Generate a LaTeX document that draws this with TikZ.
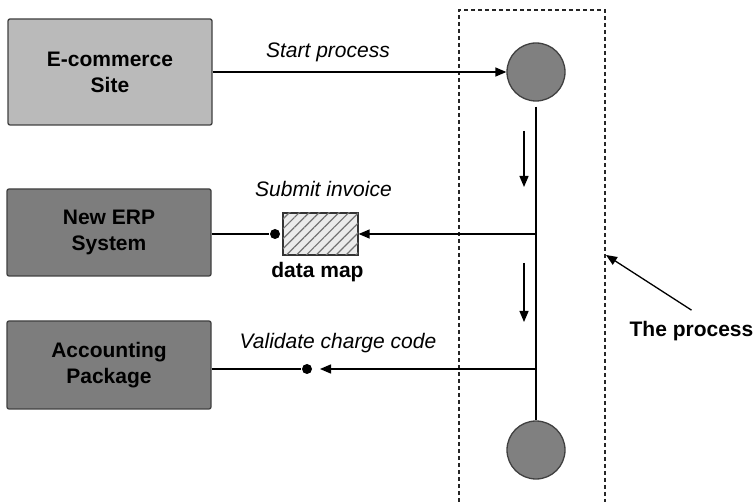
\documentclass[tikz,border=0pt]{standalone}
\usepackage{fontspec}
\setmainfont{Liberation Sans}
\usetikzlibrary{arrows.meta,patterns.meta}
\begin{document}
\begin{tikzpicture}[x=1pt,y=-1pt,line width=1.3pt,>={Triangle[length=11pt,width=9pt]},
		sysbox/.style={draw=black!75,rounded corners=2pt,minimum width=204pt,inner sep=0pt,align=center,font=\fontsize{21}{26}\selectfont\bfseries},
		state/.style={circle,draw=black!75,fill=black!50,minimum size=58pt,inner sep=0pt},
		dot/.style={circle,fill=black,inner sep=0pt,minimum size=10pt},
		lbl/.style={anchor=base,inner sep=0pt,font=\fontsize{21}{26}\selectfont\itshape},
		bold/.style={inner sep=0pt,font=\fontsize{21}{26}\selectfont\bfseries},
		dashbox/.style={draw=black!85,line width=1.5pt,dash pattern=on 4pt off 3pt}]
				\useasboundingbox (0,0) rectangle (755,502);
				% systems
				\node[sysbox,fill=black!27,minimum height=106pt] (ecom) at (110,72) {E-commerce\\Site};
				\node[sysbox,fill=black!51,minimum height=87pt] (erp) at (109,232.5) {New ERP\\System};
				\node[sysbox,fill=black!51,minimum height=88pt] (acct) at (109,365) {Accounting\\Package};
				% the process
				\draw[dashbox] (459,502)--(459,10)--(605,10)--(605,502);
				\node[state] (c1) at (536,72) {};
				\node[state] (c2) at (536,450) {};
				\draw[shorten <=5pt] (c1)--(c2);
				\foreach \ya/\yb in {131/187,263/322}{
					\draw[->] (524,\ya)--(524,\yb);
				}
				\coordinate (j1) at (536,234);
				\coordinate (j2) at (536,369);
				\coordinate (vtip) at (320,369);
				\coordinate (ptip) at (606,255);
				% messages
				\draw[->] (ecom)--(c1);
				\node[lbl] (start) at (328,58) {Start process};
				\node[draw=black!80,line width=1.2pt,fill=black!8,minimum width=75pt,minimum height=42pt,inner sep=0pt,
					postaction={pattern={Lines[angle=45,distance=7pt,line width=1.2pt]},pattern color=black!55}] (dmap) at (320.5,234) {};
				\node[dot] (dot1) at (275,234) {};
				\draw[->] (j1)--(dmap);
				\draw (erp.east |- dot1)--(dot1);
				\node[lbl] (submit) at (323.5,197) {Submit invoice};
				\node[bold,anchor=base] (dmaplbl) at (317.5,278) {data map};
				\node[dot] (dot2) at (307,369) {};
				\draw[->] (j2)--(vtip);
				\draw (acct.east |- dot2)--(dot2);
				\node[lbl] (validate) at (338,349) {Validate charge code};
				\node[bold,anchor=base west] (tp) at (629,337) {The process};
				\draw[->] ([yshift=11pt]tp.north)--(ptip);
			\end{tikzpicture}
\end{document}
